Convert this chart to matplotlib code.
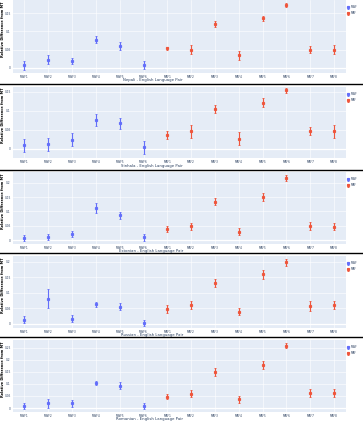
import matplotlib
matplotlib.use("Agg")
import matplotlib.pyplot as plt
from matplotlib.lines import Line2D
from matplotlib.ticker import FuncFormatter

# -----------------------------
# Data
# -----------------------------
mwf_labels = ["MWF1", "MWF2", "MWF3", "MWF4", "MWF5", "MWF6"]
maf_labels = ["MAF1", "MAF2", "MAF3", "MAF4", "MAF5", "MAF6", "MAF7", "MAF8"]

pairs = ["Nepali", "Sinhala", "Estonian", "Russian", "Romanian"]

nepali_mwf = [0.006, 0.022, 0.018, 0.077, 0.060, 0.006]
nepali_mwf_err = [0.0125, 0.012, 0.009, 0.010, 0.011, 0.011]
nepali_maf = [0.054, 0.050, 0.121, 0.034, 0.136, 0.174, 0.049, 0.050]
nepali_maf_err = [0.004, 0.012, 0.008, 0.012, 0.007, 0.006, 0.010, 0.012]

sinhala_mwf = [0.009, 0.012, 0.024, 0.075, 0.067, 0.004]
sinhala_mwf_err = [0.0175, 0.017, 0.017, 0.015, 0.015, 0.0175]
sinhala_maf = [0.037, 0.046, 0.105, 0.027, 0.121, 0.153, 0.046, 0.046]
sinhala_maf_err = [0.011, 0.017, 0.011, 0.017, 0.011, 0.007, 0.011, 0.0175]

estonian_mwf = [0.006, 0.0105, 0.022, 0.112, 0.086, 0.009]
estonian_mwf_err = [0.011, 0.0105, 0.0105, 0.016, 0.013, 0.0115]
estonian_maf = [0.0395, 0.048, 0.134, 0.029, 0.151, 0.216, 0.048, 0.0465]
estonian_maf_err = [0.0105, 0.013, 0.013, 0.0115, 0.0145, 0.0105, 0.0145, 0.0115]

russian_mwf = [0.013, 0.080, 0.016, 0.062, 0.054, 0.002]
russian_mwf_err = [0.011, 0.031, 0.011, 0.008, 0.011, 0.010]
russian_maf = [0.0465, 0.059, 0.131, 0.038, 0.159, 0.198, 0.057, 0.059]
russian_maf_err = [0.0125, 0.013, 0.0125, 0.011, 0.015, 0.011, 0.015, 0.013]

romanian_mwf = [0.008, 0.019, 0.019, 0.104, 0.092, 0.008]
romanian_mwf_err = [0.012, 0.0185, 0.014, 0.0095, 0.015, 0.012]
romanian_maf = [0.047, 0.060, 0.151, 0.036, 0.179, 0.258, 0.062, 0.062]
romanian_maf_err = [0.010, 0.016, 0.0165, 0.015, 0.017, 0.011, 0.018, 0.017]

mwf_values = [nepali_mwf, sinhala_mwf, estonian_mwf, russian_mwf, romanian_mwf]
mwf_errors = [nepali_mwf_err, sinhala_mwf_err, estonian_mwf_err, russian_mwf_err, romanian_mwf_err]
maf_values = [nepali_maf, sinhala_maf, estonian_maf, russian_maf, romanian_maf]
maf_errors = [nepali_maf_err, sinhala_maf_err, estonian_maf_err, russian_maf_err, romanian_maf_err]

y_limits = [(-0.015, 0.187), (-0.024, 0.162), (-0.014, 0.238), (-0.014, 0.218), (-0.0165, 0.282)]
y_ticks = [[0, 0.05, 0.1, 0.15], [0, 0.05, 0.1, 0.15], [0, 0.05, 0.1, 0.15, 0.2],
           [0, 0.05, 0.1, 0.15, 0.2], [0, 0.05, 0.1, 0.15, 0.2, 0.25]]

# -----------------------------
# Layout (pixels of a 363x423 canvas)
# -----------------------------
W, H = 363, 423
plot_left, plot_right = 12.5, 346
plot_rows = [(0, 73), (87, 158), (172, 244), (256, 328), (340, 412)]
title_y = [80, 166, 251, 335, 419]
separators = [84, 170.5, 252.5, 337]

blue = "#636EFA"
red = "#EF553B"
bg = "#E5ECF6"
text_col = "#2A3F5F"

fig = plt.figure(figsize=(W / 100, H / 100), dpi=100)
fig.patch.set_facecolor("white")

fmt = FuncFormatter(lambda v, p: "%g" % v)

for i, pair in enumerate(pairs):
    top, bottom = plot_rows[i]
    ax = fig.add_axes([plot_left / W, 1 - bottom / H,
                       (plot_right - plot_left) / W, (bottom - top) / H])
    ax.set_facecolor(bg)
    for s in ax.spines.values():
        s.set_visible(False)

    ax.errorbar(mwf_labels, mwf_values[i], yerr=mwf_errors[i], fmt="s", color=blue,
                ms=1.3, elinewidth=0.8, capsize=1.0, capthick=0.6, label="MWF", zorder=3)
    ax.errorbar(maf_labels, maf_values[i], yerr=maf_errors[i], fmt="s", color=red,
                ms=1.3, elinewidth=0.8, capsize=1.0, capthick=0.6, label="MAF", zorder=3)

    ax.set_xlim(-0.5, len(mwf_labels) + len(maf_labels) - 0.5)
    ax.set_ylim(*y_limits[i])
    ax.set_yticks(y_ticks[i])
    ax.yaxis.set_major_formatter(fmt)
    ax.grid(True, color="white", linewidth=0.4)
    ax.axhline(0, color="white", linewidth=0.9, zorder=1)
    ax.set_axisbelow(True)
    ax.tick_params(length=0, labelsize=2.1, labelcolor=text_col, pad=1.2)

    fig.text(3 / W, 1 - ((top + bottom) / 2 - 7) / H, "Relative Difference from MT",
             rotation=90, ha="center", va="center", fontsize=2.5, fontweight="bold",
             color="black")

    fig.text(183 / W, 1 - title_y[i] / H, pair + " - English Language Pair",
             ha="right", va="center", fontsize=2.8, color=text_col)

    ax.legend(loc="upper left", bbox_to_anchor=(1.0, 0.95), fontsize=2.0, frameon=False,
              handlelength=0.6, handletextpad=0.6, labelspacing=0.7, borderaxespad=0.2,
              labelcolor=text_col)

for y in separators:
    fig.add_artist(Line2D([0, 1], [1 - y / H, 1 - y / H], transform=fig.transFigure,
                          color="black", linewidth=1.0))

fig.savefig("out.png", dpi=100)
